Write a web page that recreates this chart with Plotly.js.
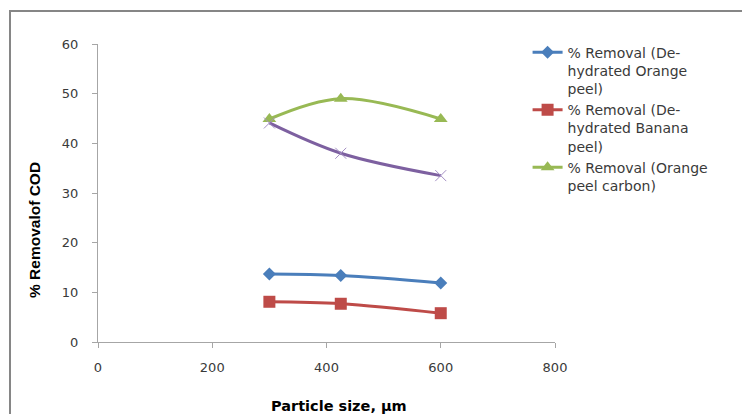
<!DOCTYPE html>
<html>
<head>
<meta charset="utf-8">
<script src="https://cdn.plot.ly/plotly-3.0.1.min.js"></script>
<style>
html,body{margin:0;padding:0;background:#fff;}
#chart{width:742px;height:414px;}
</style>
</head>
<body>
<div id="chart"></div>
<script>
const particleSize = [300, 425, 600];
const orangePeel = [13.7, 13.4, 11.9];
const bananaPeel = [8.1, 7.7, 5.8];
const orangeCarbon = [44.9, 49.0, 44.9];
const fourthSeries = [44.1, 38.0, 33.5];
const seriesNames = [
  '% Removal (De-<br>hydrated Orange<br>peel)',
  '% Removal (De-<br>hydrated Banana<br>peel)',
  '% Removal (Orange<br>peel carbon)'
];
const xTitle = 'Particle size, µm';
const yTitle = '% Removalof COD';
const xTicks = [0, 200, 400, 600, 800];
const yTicks = [0, 10, 20, 30, 40, 50, 60];

const traces = [
  {x: particleSize, y: orangePeel, name: seriesNames[0], mode: 'lines+markers',
   line: {color: '#4A7EBB', width: 3, shape: 'spline'},
   marker: {symbol: 'diamond', size: 10, color: '#4A7EBB'}},
  {x: particleSize, y: bananaPeel, name: seriesNames[1], mode: 'lines+markers',
   line: {color: '#BE4B48', width: 3, shape: 'spline'},
   marker: {symbol: 'square', size: 12, color: '#BE4B48'}},
  {x: particleSize, y: orangeCarbon, name: seriesNames[2], mode: 'lines+markers',
   line: {color: '#98B954', width: 3, shape: 'spline'},
   marker: {symbol: 'triangle-up', size: 12, color: '#98B954'}},
  {x: particleSize, y: fourthSeries, name: 'Series 4', mode: 'lines+markers', showlegend: false,
   line: {color: '#7D60A0', width: 3, shape: 'spline'},
   marker: {symbol: 'x-thin-open', size: 11, color: '#A48FC4', line: {color: '#A48FC4', width: 1}}}
];

const tickFont = {family: 'DejaVu Sans, sans-serif', size: 13, color: '#3a3a3a'};

const layout = {
  width: 742, height: 414,
  margin: {l: 98, r: 187, t: 44, b: 72},
  paper_bgcolor: '#fff', plot_bgcolor: '#fff',
  font: {family: 'DejaVu Sans, sans-serif', size: 13, color: '#3a3a3a'},
  showlegend: true,
  legend: {x: 0.94, xanchor: 'left', y: 1.025, yanchor: 'top', valign: 'top',
           font: {family: 'DejaVu Sans, sans-serif', size: 14, color: '#3a3a3a'},
           tracegroupgap: 0, itemwidth: 30, bgcolor: 'rgba(0,0,0,0)'},
  xaxis: {range: [0, 800], tickvals: xTicks, ticktext: xTicks.map(String),
          showgrid: false, zeroline: false, showline: true, linecolor: '#A6A6A6', linewidth: 1,
          ticks: 'outside', ticklen: 5, tickcolor: '#A6A6A6', ticklabelstandoff: 8,
          tickfont: tickFont},
  yaxis: {range: [0, 60], tickvals: yTicks, ticktext: yTicks.map(String),
          showgrid: false, zeroline: false, showline: true, linecolor: '#A6A6A6', linewidth: 1,
          ticks: 'outside', ticklen: 5, tickcolor: '#A6A6A6', ticklabelstandoff: 11,
          tickfont: tickFont},
  annotations: [
    {text: xTitle, xref: 'paper', yref: 'paper', x: (339 - 98) / 457, y: (342 - 406) / 298,
     xanchor: 'center', yanchor: 'middle', showarrow: false,
     font: {family: 'DejaVu Sans, sans-serif', size: 14.5, color: '#000', weight: 'bold'}},
    {text: yTitle, xref: 'paper', yref: 'paper', x: (34 - 98) / 457, y: (342 - 230) / 298,
     xanchor: 'center', yanchor: 'middle', showarrow: false, textangle: -90,
     font: {family: 'Liberation Sans, Arial, sans-serif', size: 15.5, color: '#000', weight: 'bold'}}
  ],
  shapes: [{type: 'rect', xref: 'paper', yref: 'paper',
            x0: (10 - 98) / 457, x1: (760 - 98) / 457,
            y0: (342 - 430) / 298, y1: (342 - 11) / 298,
            line: {color: '#868686', width: 2}, fillcolor: 'rgba(0,0,0,0)', layer: 'below'}]
};

Plotly.newPlot('chart', traces, layout, {displayModeBar: false, staticPlot: true});
</script>
</body>
</html>
